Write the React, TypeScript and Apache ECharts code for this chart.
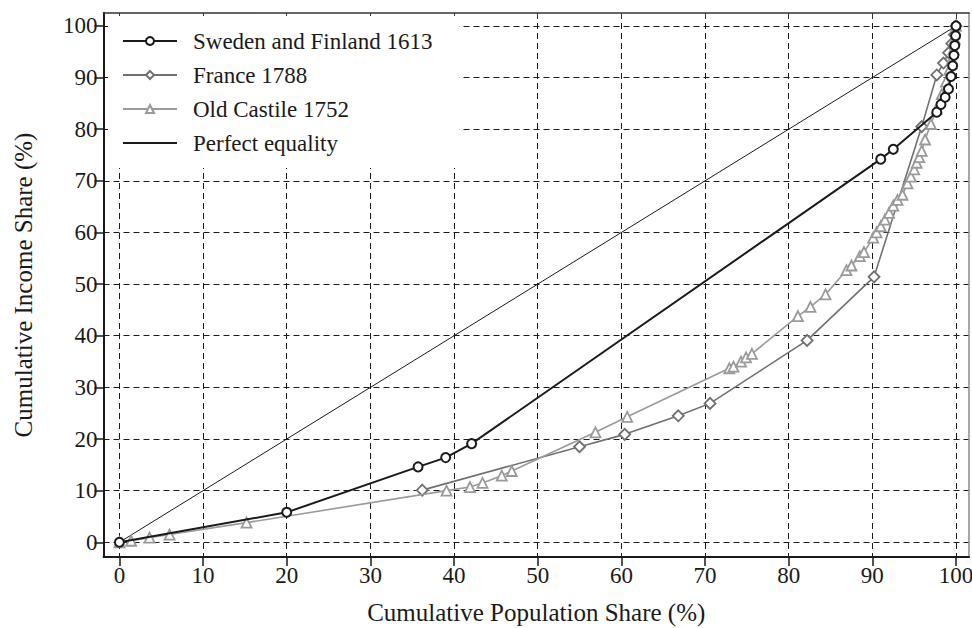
import React, { useEffect, useRef } from "react";
import * as echarts from "echarts";

const X_TICKS = [0, 10, 20, 30, 40, 50, 60, 70, 80, 90, 100];
const Y_TICKS = [0, 10, 20, 30, 40, 50, 60, 70, 80, 90, 100];

const SERIES_NAMES = ["Sweden and Finland 1613", "France 1788", "Old Castile 1752", "Perfect equality"];

const swedenX = [0, 20, 35.7, 39.0, 42.1, 91.0, 92.5, 97.7, 98.2, 98.7, 99.1, 99.4, 99.6, 99.75, 99.85, 99.95, 100];
const swedenY = [0, 5.8, 14.6, 16.4, 19.1, 74.2, 76.1, 83.3, 84.8, 86.2, 87.8, 90.2, 92.3, 94.3, 96.2, 98.1, 100];

const franceX = [36.2, 55.0, 60.4, 66.8, 70.6, 82.2, 90.2, 95.9, 97.7, 98.5, 99.1, 99.5, 99.8, 100];
const franceY = [10.1, 18.5, 20.9, 24.5, 26.9, 39.1, 51.4, 80.5, 90.5, 92.8, 94.8, 96.6, 98.3, 100];

const castileX = [0, 1.4, 3.6, 6.0, 15.2, 39.1, 41.9, 43.4, 45.7, 46.9, 56.9, 60.7, 72.9, 73.4, 74.3, 74.9, 75.6, 81.1, 82.6, 84.4, 86.9, 87.5, 88.5, 89.0, 90.1, 90.5, 91.0, 91.5, 92.0, 92.5, 93.0, 93.6, 94.2, 94.6, 95.0, 95.3, 95.6, 95.9, 96.3, 97.0, 97.7, 98.3, 98.8, 99.2, 99.5, 99.7, 99.85, 100];
const castileY = [0, 0.3, 0.9, 1.5, 3.8, 10.0, 10.7, 11.5, 12.9, 13.8, 21.3, 24.3, 33.7, 34.0, 35.0, 35.8, 36.5, 43.8, 45.6, 48.0, 52.7, 53.6, 55.4, 56.2, 59.0, 60.0, 61.2, 62.5, 63.8, 65.2, 66.3, 67.3, 69.5, 70.8, 72.2, 73.5, 74.6, 75.8, 78.0, 81.0, 84.0, 86.8, 89.2, 91.5, 93.5, 95.5, 97.5, 100];

const equalityX = [0, 100];
const equalityY = [0, 100];

const FONT = "Liberation Serif";
const INK = "#1a1a1a";

function pairs(xs: number[], ys: number[]) {
  return xs.map((x, i) => [x, ys[i]]);
}

export default function App() {
  const ref = useRef<HTMLDivElement>(null);

  useEffect(() => {
    if (!ref.current) return;
    const chart = echarts.init(ref.current, undefined, { renderer: "svg" });
    const xMin = -1.9, xMax = 101.55, yMin = -2.85, yMax = 102.5;
    const dashed = { type: [6, 4] as any, color: INK, width: 1 };

    chart.setOption({
      animation: false,
      backgroundColor: "#ffffff",
      textStyle: { fontFamily: FONT },
      grid: { left: 103.5, right: 3, top: 13, bottom: 71, containLabel: false, outerBoundsMode: "none" },
      legend: {
        orient: "vertical",
        left: 108,
        top: 16,
        backgroundColor: "#ffffff",
        padding: [12, 27, 12, 14],
        itemWidth: 54,
        itemHeight: 10,
        itemGap: 8,
        data: [
          SERIES_NAMES[0],
          SERIES_NAMES[1],
          SERIES_NAMES[2],
          { name: SERIES_NAMES[3], itemStyle: { opacity: 0 } },
        ],
        textStyle: { fontFamily: FONT, fontSize: 23, color: INK, lineHeight: 26, padding: [0, 0, 0, 11] },
      },
      xAxis: [
        {
          type: "value",
          min: xMin,
          max: xMax,
          position: "bottom",
          name: "Cumulative Population Share (%)",
          nameLocation: "middle",
          nameGap: 43,
          nameTextStyle: { fontFamily: FONT, fontSize: 25, color: INK },
          axisLine: { show: true, onZero: false, lineStyle: { color: INK, width: 2 } },
          axisTick: { show: true, inside: false, length: 9, customValues: X_TICKS, lineStyle: { color: INK, width: 1.5 } },
          axisLabel: { customValues: X_TICKS, margin: 7, fontFamily: FONT, fontSize: 23, color: INK },
          splitLine: { show: true, lineStyle: dashed },
        },
        {
          type: "value",
          min: xMin,
          max: xMax,
          position: "top",
          axisLine: { show: true, onZero: false, lineStyle: { color: "#333", width: 1.5 } },
          axisTick: { show: true, inside: true, length: 6, customValues: X_TICKS, lineStyle: { color: "#333", width: 1 } },
          axisLabel: { show: false },
          splitLine: { show: false },
        },
      ],
      yAxis: [
        {
          type: "value",
          min: yMin,
          max: yMax,
          position: "left",
          name: "Cumulative Income Share (%)",
          nameLocation: "middle",
          nameGap: 68,
          nameTextStyle: { fontFamily: FONT, fontSize: 25, color: INK },
          axisLine: { show: true, onZero: false, lineStyle: { color: INK, width: 2 } },
          axisTick: { show: true, inside: false, length: 9, customValues: Y_TICKS, lineStyle: { color: INK, width: 1.5 } },
          axisLabel: { customValues: Y_TICKS, margin: 6, fontFamily: FONT, fontSize: 23, color: INK },
          splitLine: { show: true, lineStyle: dashed },
        },
        {
          type: "value",
          min: yMin,
          max: yMax,
          position: "right",
          axisLine: { show: true, onZero: false, lineStyle: { color: "#8a8a8a", width: 1.5 } },
          axisTick: { show: false, customValues: Y_TICKS },
          axisLabel: { show: false },
          splitLine: { show: false },
        },
      ],
      series: [
        {
          name: "Perfect equality",
          type: "line",
          data: pairs(equalityX, equalityY),
          symbol: "none",
          lineStyle: { color: INK, width: 1 },
          itemStyle: { color: INK },
          z: 2,
        },
        {
          name: "France 1788",
          type: "line",
          data: pairs(franceX, franceY),
          symbol: "diamond",
          symbolSize: 11,
          showAllSymbol: true,
          lineStyle: { color: "#707070", width: 1.6 },
          itemStyle: { color: "#ffffff", borderColor: "#707070", borderWidth: 1.8 },
          z: 3,
        },
        {
          name: "Old Castile 1752",
          type: "line",
          data: pairs(castileX, castileY),
          symbol: "triangle",
          symbolSize: 10,
          showAllSymbol: true,
          lineStyle: { color: "#9a9a9a", width: 1.6 },
          itemStyle: { color: "#ffffff", borderColor: "#9a9a9a", borderWidth: 1.8 },
          z: 4,
        },
        {
          name: "Sweden and Finland 1613",
          type: "line",
          data: pairs(swedenX, swedenY),
          symbol: "circle",
          symbolSize: 9,
          showAllSymbol: true,
          lineStyle: { color: INK, width: 2 },
          itemStyle: { color: "#ffffff", borderColor: INK, borderWidth: 2 },
          z: 5,
        },
      ],
    });

    return () => chart.dispose();
  }, []);

  return <div ref={ref} style={{ width: 972, height: 628, position: "absolute", left: 0, top: 0 }} />;
}
